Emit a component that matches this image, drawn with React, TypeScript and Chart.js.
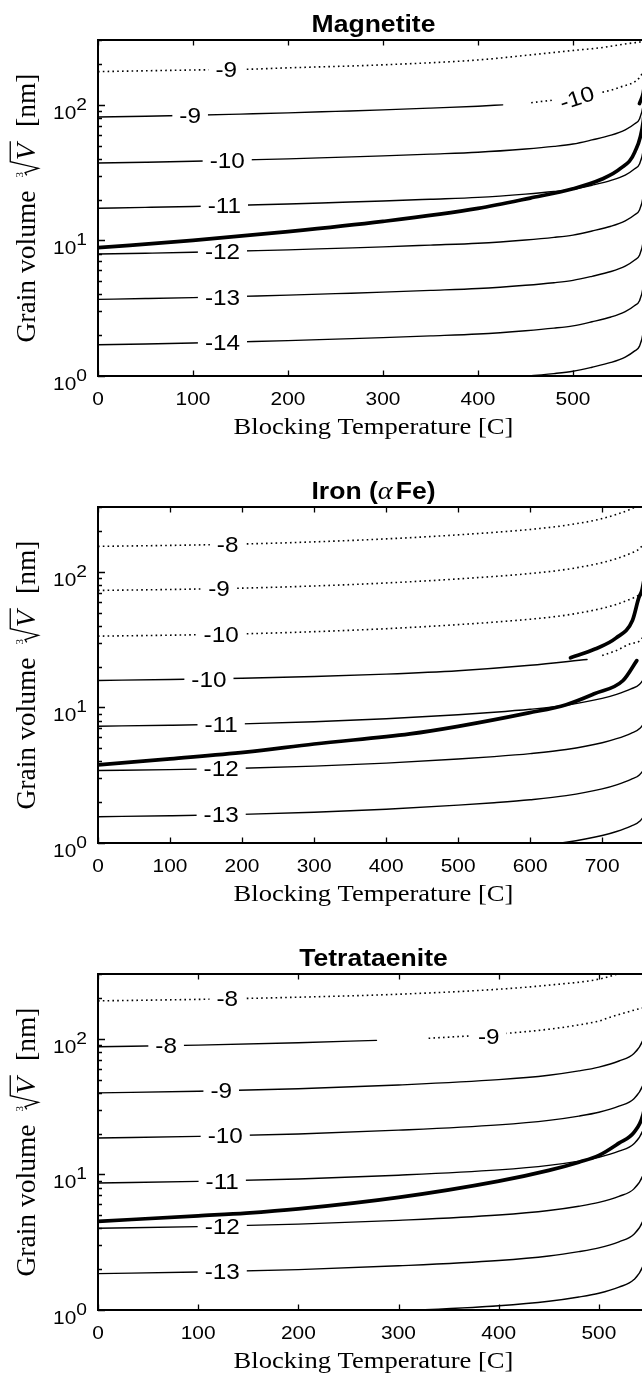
import React, { useEffect, useRef } from 'react';
import { Chart, registerables } from 'chart.js';
Chart.register(...registerables);

type P = [number, number];

// ---------------- Magnetite ----------------
const magXTicks = [0, 100, 200, 300, 400, 500];
const magDotted9: P[] = [[0, 175.4], [100, 180.3], [156, 182.4], [200, 187], [300, 196.8], [400, 213.8], [459, 234.4], [500, 251], [529, 263], [562, 285], [574, 298.5], [580, 355]];
const magSolid9: P[] = [[0, 81.1], [50, 82.2], [100, 83.6], [150, 85.3], [200, 87.1], [250, 89.3], [300, 91.6], [350, 94.4], [400, 97.5], [426, 99.8]];
const magDotted10: P[] = [[456, 103.5], [480, 108.4], [500, 113.5], [529, 122.7], [550, 135], [570, 158.5], [578, 199.5]];
const magSolid10: P[] = [[0, 37.15], [50, 37.67], [100, 38.28], [150, 39.08], [200, 39.9], [250, 40.93], [300, 41.98], [350, 43.25], [400, 44.67], [450, 47.2], [480, 49.3], [500, 51.3], [520, 55], [540, 59.6], [555, 65.3], [565, 72.4], [570, 78.5], [574, 100], [578, 186]];
const magSolid11: P[] = [[0, 17.26], [50, 17.5], [100, 17.78], [150, 18.16], [200, 18.54], [250, 19.01], [300, 19.5], [350, 20.1], [400, 20.75], [450, 21.93], [480, 22.9], [500, 23.8], [520, 25.5], [540, 27.7], [555, 30.3], [565, 33.7], [570, 36.5], [574, 46.5], [578, 86.5]];
const magSolid12: P[] = [[0, 7.925], [50, 8.04], [100, 8.17], [150, 8.34], [200, 8.51], [250, 8.73], [300, 8.95], [350, 9.23], [400, 9.53], [450, 10.07], [480, 10.52], [500, 10.94], [520, 11.72], [540, 12.71], [555, 13.93], [565, 15.45], [570, 16.75], [574, 21.3], [578, 39.7]];
const magSolid13: P[] = [[0, 3.673], [50, 3.724], [100, 3.784], [150, 3.864], [200, 3.945], [250, 4.046], [300, 4.15], [350, 4.276], [400, 4.416], [450, 4.667], [480, 4.875], [500, 5.07], [520, 5.43], [540, 5.89], [555, 6.46], [565, 7.16], [570, 7.76], [574, 9.89], [578, 18.4]];
const magSolid14: P[] = [[0, 1.698], [50, 1.722], [100, 1.75], [150, 1.786], [200, 1.824], [250, 1.871], [300, 1.919], [350, 1.977], [400, 2.042], [450, 2.158], [480, 2.254], [500, 2.344], [520, 2.512], [540, 2.723], [555, 2.985], [565, 3.311], [570, 3.589], [574, 4.571], [578, 8.51]];
const magSolid15: P[] = [[300, 0.887], [350, 0.914], [400, 0.944], [450, 0.998], [480, 1.042], [500, 1.084], [520, 1.161], [540, 1.259], [555, 1.38], [565, 1.531], [570, 1.66], [574, 2.113], [578, 3.94]];
const magThick: P[] = [[0, 8.83], [100, 10], [200, 11.6], [300, 13.8], [400, 17.2], [455, 20.5], [500, 24], [530, 28.2], [550, 33.9], [565, 44.7], [574, 75.9], [578, 158]];
const magThick2: P[] = [[570, 102], [574, 123], [578, 200]];
const magLabelText = ['-9', '-9', '-10', '-11', '-12', '-13', '-14', '-10'];
const magLabelT = [135, 97, 136, 133, 131, 131, 131, 504];
const magLabelV = [181.8, 83.5, 38.9, 18.06, 8.28, 3.83, 1.77, 113];
const magLabelAngle = [0, 0, 0, 0, 0, 0, 0, -18];

// ---------------- Iron ----------------
const ironXTicks = [0, 100, 200, 300, 400, 500, 600, 700];
const ironDotted8: P[] = [[0, 153.8], [100, 156.3], [200, 160], [300, 166], [400, 174.6], [500, 187], [600, 205], [650, 220], [700, 246.6], [740, 290], [752, 314]];
const ironDotted9: P[] = [[0, 72.8], [100, 73.96], [200, 75.7], [300, 78.5], [400, 82.6], [500, 88.5], [600, 97], [650, 104], [700, 116.7], [720, 125], [740, 137], [752, 148.6], [758, 166.7], [763, 230]];
const ironDotted10: P[] = [[0, 33.5], [100, 34.04], [200, 34.83], [300, 36.14], [400, 38.02], [500, 40.74], [600, 44.67], [650, 47.86], [700, 53.7], [720, 57.5], [740, 63.1], [752, 68.4], [758, 76.7], [763, 106]];
const ironSolid10: P[] = [[0, 15.78], [100, 16.05], [200, 16.41], [300, 16.9], [400, 17.58], [500, 18.62], [600, 20.42], [679, 22.54]];
const ironDotted11: P[] = [[700, 24.15], [720, 26.3], [740, 29.5], [755, 32.1], [760, 39.8], [764, 63]];
const ironSolid11: P[] = [[0, 7.26], [100, 7.38], [200, 7.55], [300, 7.83], [400, 8.24], [500, 8.83], [550, 9.2], [600, 9.68], [650, 10.37], [700, 11.64], [720, 12.47], [740, 13.68], [752, 14.83], [758, 16.6], [763, 23]];
const ironSolid12: P[] = [[0, 3.42], [100, 3.475], [200, 3.556], [300, 3.69], [400, 3.88], [500, 4.16], [550, 4.335], [600, 4.56], [650, 4.887], [700, 5.48], [720, 5.875], [740, 6.44], [752, 6.98], [758, 7.83], [763, 10.8]];
const ironSolid13: P[] = [[0, 1.563], [100, 1.589], [200, 1.626], [300, 1.687], [400, 1.774], [500, 1.901], [550, 1.982], [600, 2.084], [650, 2.234], [700, 2.506], [720, 2.685], [740, 2.944], [752, 3.19], [758, 3.58], [763, 4.94]];
const ironSolid14: P[] = [[500, 0.861], [600, 0.944], [650, 1.012], [700, 1.135], [720, 1.216], [740, 1.334], [752, 1.445], [758, 1.622], [763, 2.239]];
const ironThick: P[] = [[0, 3.767], [100, 4.17], [205, 4.67], [300, 5.37], [433, 6.37], [500, 7.24], [598, 9.1], [650, 10.47], [689, 12.59], [729, 15.78], [748, 22.1]];
const ironThick2: P[] = [[656, 23.2], [690, 26.9], [719, 32.4], [742, 43.7], [751, 64.6], [755, 72.4], [760, 100]];
const ironLabelText = ['-8', '-9', '-10', '-10', '-11', '-12', '-13'];
const ironLabelT = [180, 168, 171, 154, 171, 171, 171];
const ironLabelV = [159.3, 75.1, 34.6, 16.2, 7.5, 3.53, 1.615];
const ironLabelAngle = [0, 0, 0, 0, 0, 0, 0];

// ---------------- Tetrataenite ----------------
const tetXTicks = [0, 100, 200, 300, 400, 500];
const tetDotted8: P[] = [[0, 190.1], [100, 195], [200, 202.3], [300, 212.8], [400, 231.7], [450, 248.3], [500, 274.8], [520, 302]];
const tetSolid8: P[] = [[0, 87.3], [100, 89.7], [200, 93.5], [278, 97.3]];
const tetDotted9: P[] = [[330, 100.7], [400, 108.4], [450, 117.5], [480, 126.5], [500, 135], [510, 143], [520, 150.7], [540, 166], [544, 170], [548, 200], [551, 316]];
const tetSolid9: P[] = [[0, 39.9], [100, 41.02], [200, 42.76], [300, 45.6], [400, 49.9], [450, 53.8], [480, 57.9], [500, 61.8], [520, 68.5], [535, 77.8], [544, 98], [548, 126], [551, 252]];
const tetSolid10: P[] = [[0, 18.54], [100, 19.05], [200, 19.86], [300, 21.18], [400, 23.17], [450, 25.0], [480, 26.9], [500, 28.7], [520, 31.8], [535, 36.1], [544, 45.5], [548, 58.6], [551, 117]];
const tetSolid11: P[] = [[0, 8.63], [100, 8.87], [200, 9.25], [300, 9.86], [400, 10.79], [450, 11.64], [480, 12.53], [500, 13.37], [520, 14.83], [535, 16.83], [544, 21.18], [548, 27.3], [551, 54.5]];
const tetSolid12: P[] = [[0, 4.009], [100, 4.121], [200, 4.295], [300, 4.581], [400, 5.012], [450, 5.408], [480, 5.821], [500, 6.209], [520, 6.887], [535, 7.816], [544, 9.84], [548, 12.68], [551, 25.3]];
const tetSolid13: P[] = [[0, 1.854], [100, 1.905], [200, 1.986], [300, 2.118], [400, 2.317], [450, 2.5], [480, 2.692], [500, 2.871], [520, 3.184], [535, 3.614], [544, 4.55], [548, 5.86], [551, 11.7]];
const tetSolid14: P[] = [[200, 0.92], [300, 0.982], [400, 1.074], [450, 1.159], [480, 1.247], [500, 1.33], [520, 1.476], [535, 1.675], [544, 2.109], [548, 2.716], [551, 5.42]];
const tetThick: P[] = [[0, 4.5], [100, 4.95], [148, 5.18], [200, 5.56], [300, 6.76], [400, 8.91], [450, 10.7], [480, 12.3], [500, 13.8], [520, 17], [535, 20.4], [544, 27.5], [548, 39.8], [551, 79.4]];
const tetLabelText = ['-8', '-8', '-9', '-10', '-11', '-12', '-13', '-9'];
const tetLabelT = [129, 68, 123, 127, 124, 124, 124, 390];
const tetLabelV = [197, 88.9, 41.4, 19.25, 8.96, 4.16, 1.92, 104];
const tetLabelAngle = [0, 0, 0, 0, 0, 0, 0, 0];

// shared axis values
const yMin = 1;
const yMax = 300;
const yMajorTicks = [1, 10, 100];
const yMajorExp = ['0', '1', '2'];
const yMinorTicks = [2, 3, 4, 5, 6, 7, 8, 9, 20, 30, 40, 50, 60, 70, 80, 90, 200, 300];

type Kind = 'solid' | 'dotted' | 'thick';
interface Curve { pts: P[]; kind: Kind }
interface PlotDef {
  title: 'mag' | 'iron' | 'tet';
  xMax: number;
  xTicks: number[];
  curves: Curve[];
  labelText: string[];
  labelT: number[];
  labelV: number[];
  labelAngle: number[];
}

const PLOTS: PlotDef[] = [
  {
    title: 'mag', xMax: 580, xTicks: magXTicks,
    curves: [
      { pts: magDotted9, kind: 'dotted' }, { pts: magSolid9, kind: 'solid' }, { pts: magDotted10, kind: 'dotted' },
      { pts: magSolid10, kind: 'solid' }, { pts: magSolid11, kind: 'solid' }, { pts: magSolid12, kind: 'solid' },
      { pts: magSolid13, kind: 'solid' }, { pts: magSolid14, kind: 'solid' }, { pts: magSolid15, kind: 'solid' },
      { pts: magThick, kind: 'thick' }, { pts: magThick2, kind: 'thick' },
    ],
    labelText: magLabelText, labelT: magLabelT, labelV: magLabelV, labelAngle: magLabelAngle,
  },
  {
    title: 'iron', xMax: 765, xTicks: ironXTicks,
    curves: [
      { pts: ironDotted8, kind: 'dotted' }, { pts: ironDotted9, kind: 'dotted' }, { pts: ironDotted10, kind: 'dotted' },
      { pts: ironSolid10, kind: 'solid' }, { pts: ironDotted11, kind: 'dotted' }, { pts: ironSolid11, kind: 'solid' },
      { pts: ironSolid12, kind: 'solid' }, { pts: ironSolid13, kind: 'solid' }, { pts: ironSolid14, kind: 'solid' },
      { pts: ironThick, kind: 'thick' }, { pts: ironThick2, kind: 'thick' },
    ],
    labelText: ironLabelText, labelT: ironLabelT, labelV: ironLabelV, labelAngle: ironLabelAngle,
  },
  {
    title: 'tet', xMax: 550, xTicks: tetXTicks,
    curves: [
      { pts: tetDotted8, kind: 'dotted' }, { pts: tetSolid8, kind: 'solid' }, { pts: tetDotted9, kind: 'dotted' },
      { pts: tetSolid9, kind: 'solid' }, { pts: tetSolid10, kind: 'solid' }, { pts: tetSolid11, kind: 'solid' },
      { pts: tetSolid12, kind: 'solid' }, { pts: tetSolid13, kind: 'solid' }, { pts: tetSolid14, kind: 'solid' },
      { pts: tetThick, kind: 'thick' },
    ],
    labelText: tetLabelText, labelT: tetLabelT, labelV: tetLabelV, labelAngle: tetLabelAngle,
  },
];

// layout
const CW = 700;
const CH = 467;
const PLOT_LEFT = 98;
const PLOT_RIGHT = 649;
const PLOT_TOP = 40;
const PLOT_H = 336;

const SANS = '"Liberation Sans", Arial, Helvetica, sans-serif';
const SERIF = '"Liberation Serif", "Times New Roman", "DejaVu Serif", serif';
const SX = 1.13;

function sText(ctx: CanvasRenderingContext2D, s: string, x: number, y: number, font: string, align: 'left' | 'center' | 'right') {
  ctx.save();
  ctx.font = font;
  const w = ctx.measureText(s).width * SX;
  const left = align === 'left' ? x : align === 'center' ? x - w / 2 : x - w;
  ctx.translate(left, y);
  ctx.scale(SX, 1);
  ctx.textAlign = 'left';
  ctx.textBaseline = 'alphabetic';
  ctx.fillStyle = '#000';
  ctx.fillText(s, 0, 0);
  ctx.restore();
  return w;
}

function measure(ctx: CanvasRenderingContext2D, s: string, font: string) {
  ctx.save();
  ctx.font = font;
  const w = ctx.measureText(s).width * SX;
  ctx.restore();
  return w;
}

function drawTitle(ctx: CanvasRenderingContext2D, kind: PlotDef['title'], cx: number, baseY: number) {
  const bold = `bold 23.5px ${SANS}`;
  if (kind === 'mag') { sText(ctx, 'Magnetite', cx, baseY, bold, 'center'); return; }
  if (kind === 'tet') { sText(ctx, 'Tetrataenite', cx, baseY, bold, 'center'); return; }
  const a = 'Iron (';
  const b = '\u03B1';
  const c = 'Fe)';
  const fa = `italic 25px ${SERIF}`;
  const wa = measure(ctx, a, bold);
  const wb = measure(ctx, b, fa);
  const wc = measure(ctx, c, bold);
  const gap = 3;
  const total = wa + wb + gap + wc;
  let x = cx - total / 2;
  sText(ctx, a, x, baseY, bold, 'left'); x += wa;
  sText(ctx, b, x, baseY, fa, 'left'); x += wb + gap;
  sText(ctx, c, x, baseY, bold, 'left');
}

function drawYLabel(ctx: CanvasRenderingContext2D, bx: number, cy: number) {
  const f = 27.5;
  ctx.save();
  ctx.translate(bx, cy);
  ctx.rotate(-Math.PI / 2);
  ctx.fillStyle = '#000';
  ctx.strokeStyle = '#000';
  ctx.textBaseline = 'alphabetic';
  ctx.textAlign = 'left';
  const fr = `${f}px ${SERIF}`;
  const fi = `italic ${f}px ${SERIF}`;
  ctx.font = fr;
  const p1 = 'Grain volume ';
  const w1 = ctx.measureText(p1).width;
  ctx.font = fi;
  const wV = ctx.measureText('V').width;
  ctx.font = fr;
  const p2 = '  [nm]';
  const w2 = ctx.measureText(p2).width;
  const lead = 0.3 * f;
  const radW = 0.55 * f;
  const total = w1 + lead + radW + wV + 0.1 * f + w2;
  let u = -total / 2;
  ctx.font = fr;
  ctx.fillText(p1, u, 0);
  u += w1 + lead;
  // index of the root
  ctx.font = `${Math.round(f * 0.4)}px ${SERIF}`;
  ctx.fillText('3', u - 0.08 * f, -0.42 * f);
  // radical sign
  ctx.lineWidth = 1.3;
  ctx.lineJoin = 'miter';
  ctx.beginPath();
  ctx.moveTo(u + 0.0 * f, -0.3 * f);
  ctx.lineTo(u + 0.1 * f, -0.36 * f);
  ctx.lineTo(u + 0.26 * f, 0.12 * f);
  ctx.lineTo(u + 0.5 * f, -0.9 * f);
  ctx.lineTo(u + radW + wV + 0.08 * f, -0.9 * f);
  ctx.stroke();
  ctx.font = fi;
  ctx.fillText('V', u + radW, 0);
  u += radW + wV + 0.1 * f;
  ctx.font = fr;
  ctx.fillText(p2, u, 0);
  ctx.restore();
}

function makePlugin(def: PlotDef) {
  const firstThin = def.curves.findIndex((c) => c.kind !== 'thick');
  return {
    id: 'matlabLook',
    afterDatasetDraw(chart: any, args: any) {
      if (args.index !== firstThin) return;
      const ctx: CanvasRenderingContext2D = chart.ctx;
      const xs = chart.scales.x;
      const ys = chart.scales.y;
      const font = `21.5px ${SANS}`;
      def.labelText.forEach((txt, i) => {
        const px = xs.getPixelForValue(def.labelT[i]);
        const py = ys.getPixelForValue(def.labelV[i]);
        const w = measure(ctx, txt, font);
        ctx.save();
        ctx.translate(px, py);
        ctx.rotate((def.labelAngle[i] * Math.PI) / 180);
        ctx.fillStyle = '#fff';
        ctx.fillRect(-w / 2 - 7, -9.5, w + 14, 19);
        ctx.restore();
        ctx.save();
        ctx.translate(px, py);
        ctx.rotate((def.labelAngle[i] * Math.PI) / 180);
        sText(ctx, txt, 0, 7.7, font, 'center');
        ctx.restore();
      });
    },
    afterDraw(chart: any) {
      const ctx: CanvasRenderingContext2D = chart.ctx;
      const { left, right, top, bottom } = chart.chartArea;
      const xs = chart.scales.x;
      const ys = chart.scales.y;
      ctx.save();
      ctx.strokeStyle = '#000';
      ctx.fillStyle = '#000';
      // ticks
      ctx.lineWidth = 1.3;
      ctx.beginPath();
      def.xTicks.forEach((t) => {
        const px = Math.round(xs.getPixelForValue(t)) + 0.5;
        ctx.moveTo(px, bottom); ctx.lineTo(px, bottom - 5.5);
        ctx.moveTo(px, top); ctx.lineTo(px, top + 5.5);
      });
      yMajorTicks.forEach((v) => {
        const py = Math.round(ys.getPixelForValue(v)) + 0.5;
        ctx.moveTo(left, py); ctx.lineTo(left + 7, py);
        ctx.moveTo(right, py); ctx.lineTo(right - 7, py);
      });
      yMinorTicks.forEach((v) => {
        const py = Math.round(ys.getPixelForValue(v)) + 0.5;
        ctx.moveTo(left, py); ctx.lineTo(left + 4, py);
        ctx.moveTo(right, py); ctx.lineTo(right - 4, py);
      });
      ctx.stroke();
      // frame
      ctx.lineWidth = 2;
      ctx.strokeRect(left, top, right - left, bottom - top);
      ctx.restore();

      // x tick labels
      const tickFont = `18.5px ${SANS}`;
      def.xTicks.forEach((t) => {
        sText(ctx, String(t), xs.getPixelForValue(t), bottom + 28.5, tickFont, 'center');
      });
      // y tick labels 10^n
      const supFont = `17px ${SANS}`;
      yMajorTicks.forEach((v, i) => {
        const py = ys.getPixelForValue(v);
        const ws = measure(ctx, yMajorExp[i], supFont);
        const xr = left - 11;
        sText(ctx, yMajorExp[i], xr, py + 5, supFont, 'right');
        sText(ctx, '10', xr - ws, py + 14, tickFont, 'right');
      });
      // x title
      sText(ctx, 'Blocking Temperature [C]', (left + right) / 2, bottom + 58, `23.5px ${SERIF}`, 'center');
      // title
      drawTitle(ctx, def.title, (left + right) / 2, top - 8.5);
      // y label
      drawYLabel(ctx, 35, (top + bottom) / 2);
    },
  };
}

function makeConfig(def: PlotDef): any {
  const datasets = def.curves.map((c) => ({
    data: c.pts.map(([x, y]) => ({ x, y })),
    borderColor: '#000',
    backgroundColor: '#000',
    borderWidth: c.kind === 'thick' ? 3.7 : c.kind === 'dotted' ? 1.6 : 1.4,
    borderDash: c.kind === 'dotted' ? [1.6, 3.2] : [],
    borderCapStyle: c.kind === 'dotted' ? 'butt' : 'round',
    borderJoinStyle: 'round',
    pointRadius: 0,
    pointHoverRadius: 0,
    fill: false,
    cubicInterpolationMode: 'monotone',
    order: c.kind === 'thick' ? 0 : 1,
  }));
  return {
    type: 'line',
    data: { datasets },
    options: {
      animation: false,
      responsive: false,
      maintainAspectRatio: false,
      events: [],
      layout: { padding: { top: PLOT_TOP, right: CW - PLOT_RIGHT, left: 0, bottom: 0 } },
      plugins: { legend: { display: false }, tooltip: { enabled: false }, title: { display: false } },
      scales: {
        x: {
          type: 'linear', min: 0, max: def.xMax,
          ticks: { display: false }, grid: { display: false }, border: { display: false },
          afterFit: (s: any) => { s.height = CH - PLOT_TOP - PLOT_H; },
        },
        y: {
          type: 'logarithmic', min: yMin, max: yMax,
          ticks: { display: false }, grid: { display: false }, border: { display: false },
          afterFit: (s: any) => { s.width = PLOT_LEFT; },
        },
      },
    },
    plugins: [makePlugin(def)],
  };
}

function Panel({ def, index }: { def: PlotDef; index: number }) {
  const ref = useRef<HTMLCanvasElement | null>(null);
  useEffect(() => {
    if (!ref.current) return;
    const chart = new Chart(ref.current, makeConfig(def));
    return () => chart.destroy();
  }, [def]);
  return (
    <canvas
      ref={ref}
      width={CW}
      height={CH}
      style={{ position: 'absolute', left: 0, top: index * CH, width: CW, height: CH }}
    />
  );
}

export default function App() {
  return (
    <div style={{ position: 'fixed', left: 0, top: 0, width: 642, height: 1374, overflow: 'hidden', background: '#fff' }}>
      {PLOTS.map((d, i) => (
        <Panel key={i} def={d} index={i} />
      ))}
    </div>
  );
}
